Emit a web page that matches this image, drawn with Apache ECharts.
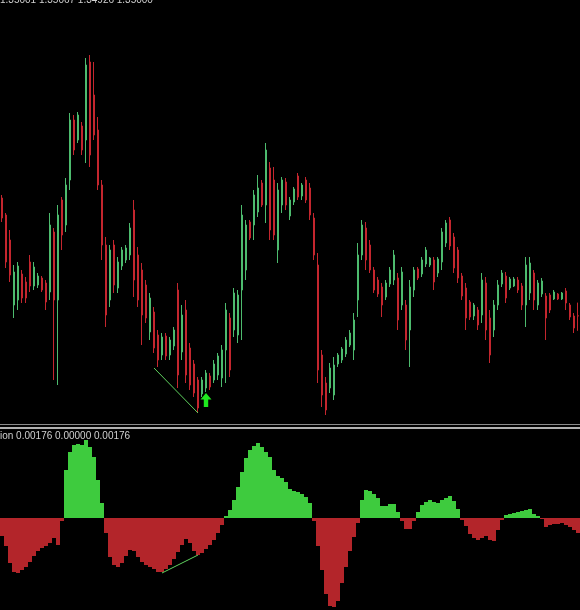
<!DOCTYPE html>
<html>
<head>
<meta charset="utf-8">
<script src="https://cdn.jsdelivr.net/npm/echarts@6/dist/echarts.min.js"></script>
<style>
    html, body { margin: 0; padding: 0; background: #000; }
    #chart { width: 580px; height: 610px; }
</style>
</head>
<body>
<div id="chart"></div>
<script>
// price bars
const open = [
    1.35590, 1.35505, 1.35380, 1.35055, 1.35080, 1.35210, 1.35170, 1.35270, 1.35150, 1.35155,
    1.35190, 1.35165, 1.35120, 1.35420, 1.35080, 1.35580, 1.35455, 1.35680, 1.35980, 1.35880,
    1.35950, 1.35880, 1.36270, 1.36105, 1.35930, 1.35655, 1.35355, 1.35080, 1.35355, 1.35140,
    1.35250, 1.35280, 1.35305, 1.35530, 1.35305, 1.35230, 1.35155, 1.34920, 1.35020, 1.34905,
    1.34805, 1.34900, 1.34805, 1.34850, 1.35130, 1.34820, 1.35030, 1.34840, 1.34760, 1.34680,
    1.34610, 1.34640, 1.34700, 1.34680, 1.34705, 1.34690, 1.34830, 1.34990, 1.34930, 1.34905,
    1.35130, 1.35230, 1.35470, 1.35455, 1.35520, 1.35665, 1.35555, 1.35740, 1.35680, 1.35330,
    1.35555, 1.35670, 1.35500, 1.35570, 1.35700, 1.35600, 1.35680, 1.35640, 1.35490, 1.35255,
    1.34805, 1.34665, 1.34640, 1.34605, 1.34760, 1.34780, 1.34810, 1.34855, 1.34830, 1.35080,
    1.35305, 1.35440, 1.35355, 1.35230, 1.35180, 1.35145, 1.35095, 1.35160, 1.35180, 1.35190,
    1.35055, 1.35055, 1.34930, 1.35130, 1.35235, 1.35210, 1.35260, 1.35255, 1.35280, 1.35215,
    1.35270, 1.35365, 1.35480, 1.35395, 1.35330, 1.35200, 1.35140, 1.35070, 1.35000, 1.35030,
    1.35005, 1.35165, 1.34990, 1.34930, 1.35055, 1.35160, 1.35200, 1.35140, 1.35150, 1.35180,
    1.35150, 1.35055, 1.35115, 1.35215, 1.35055, 1.35110, 1.35100, 1.35105, 1.35085, 1.35110,
    1.35085, 1.35125, 1.35055, 1.35000, 1.35001
]
const close = [
    1.35490, 1.35270, 1.35205, 1.35220, 1.35250, 1.35090, 1.35090, 1.35150, 1.35245, 1.35200,
    1.35130, 1.35070, 1.35455, 1.35080, 1.35505, 1.35405, 1.35655, 1.35980, 1.35830, 1.36005,
    1.35830, 1.36255, 1.35805, 1.35905, 1.35655, 1.35355, 1.35005, 1.35330, 1.35155, 1.35270,
    1.35330, 1.35340, 1.35440, 1.35180, 1.35080, 1.35005, 1.34990, 1.35090, 1.34840, 1.34780,
    1.34895, 1.34800, 1.34880, 1.34930, 1.34705, 1.35005, 1.34705, 1.34655, 1.34615, 1.34540,
    1.34680, 1.34715, 1.34645, 1.34760, 1.34800, 1.34830, 1.35030, 1.34730, 1.35115, 1.35105,
    1.35505, 1.35455, 1.35390, 1.35605, 1.35640, 1.35555, 1.35830, 1.35430, 1.35405, 1.35630,
    1.35680, 1.35555, 1.35580, 1.35635, 1.35595, 1.35655, 1.35580, 1.35505, 1.35305, 1.34730,
    1.34605, 1.34530, 1.34740, 1.34755, 1.34805, 1.34835, 1.34880, 1.34915, 1.34980, 1.35305,
    1.35455, 1.35280, 1.35230, 1.35130, 1.35110, 1.35055, 1.35165, 1.35230, 1.35305, 1.34980,
    1.35220, 1.34880, 1.35145, 1.35230, 1.35190, 1.35280, 1.35330, 1.35290, 1.35170, 1.35285,
    1.35420, 1.35465, 1.35350, 1.35240, 1.35190, 1.35100, 1.34990, 1.34995, 1.35055, 1.34955,
    1.35180, 1.34930, 1.34805, 1.35055, 1.35155, 1.35215, 1.35090, 1.35185, 1.35185, 1.35130,
    1.35055, 1.35255, 1.35265, 1.35080, 1.35165, 1.35175, 1.34990, 1.35030, 1.35120, 1.35085,
    1.35115, 1.35065, 1.34995, 1.34940, 1.35000
]
const low = [
    1.35470, 1.35240, 1.35170, 1.34990, 1.35030, 1.35065, 1.35065, 1.35120, 1.35130, 1.35140,
    1.35120, 1.35030, 1.35080, 1.34680, 1.34655, 1.35330, 1.35420, 1.35630, 1.35805, 1.35865,
    1.35805, 1.35765, 1.35745, 1.35880, 1.35630, 1.35280, 1.34945, 1.35045, 1.35115, 1.35115,
    1.35230, 1.35265, 1.35280, 1.35095, 1.35045, 1.34855, 1.34965, 1.34880, 1.34815, 1.34745,
    1.34780, 1.34780, 1.34780, 1.34830, 1.34640, 1.34780, 1.34665, 1.34630, 1.34595, 1.34515,
    1.34595, 1.34620, 1.34630, 1.34665, 1.34680, 1.34645, 1.34665, 1.34695, 1.34895, 1.34865,
    1.34880, 1.35180, 1.35380, 1.35380, 1.35495, 1.35545, 1.35465, 1.35380, 1.35380, 1.35265,
    1.35515, 1.35530, 1.35480, 1.35555, 1.35580, 1.35580, 1.35565, 1.35480, 1.35280, 1.34665,
    1.34545, 1.34505, 1.34615, 1.34580, 1.34745, 1.34765, 1.34795, 1.34845, 1.34780, 1.34995,
    1.35280, 1.35230, 1.35215, 1.35115, 1.35095, 1.34995, 1.35080, 1.35145, 1.35155, 1.34930,
    1.35030, 1.34830, 1.34745, 1.35095, 1.35180, 1.35195, 1.35245, 1.35245, 1.35130, 1.35195,
    1.35230, 1.35345, 1.35330, 1.35215, 1.35165, 1.35080, 1.34930, 1.34980, 1.34980, 1.34930,
    1.34965, 1.34880, 1.34765, 1.34895, 1.35030, 1.35145, 1.35065, 1.35130, 1.35145, 1.35115,
    1.35030, 1.34945, 1.35080, 1.35030, 1.35030, 1.35095, 1.34880, 1.35015, 1.35080, 1.35080,
    1.35080, 1.35030, 1.34980, 1.34915, 1.34926
]
const high = [
    1.35605, 1.35515, 1.35430, 1.35255, 1.35270, 1.35230, 1.35195, 1.35305, 1.35270, 1.35215,
    1.35200, 1.35180, 1.35515, 1.35440, 1.35555, 1.35595, 1.35690, 1.36015, 1.36005, 1.36020,
    1.35970, 1.36290, 1.36305, 1.36270, 1.35995, 1.35680, 1.35395, 1.35355, 1.35380, 1.35295,
    1.35345, 1.35355, 1.35465, 1.35580, 1.35345, 1.35265, 1.35180, 1.35115, 1.35045, 1.34930,
    1.34915, 1.34915, 1.34895, 1.34945, 1.35165, 1.35055, 1.35080, 1.34865, 1.34780, 1.34695,
    1.34695, 1.34730, 1.34715, 1.34780, 1.34815, 1.34855, 1.35065, 1.35015, 1.35140, 1.35130,
    1.35555, 1.35480, 1.35480, 1.35630, 1.35705, 1.35680, 1.35865, 1.35770, 1.35745, 1.35665,
    1.35695, 1.35690, 1.35595, 1.35645, 1.35715, 1.35665, 1.35695, 1.35665, 1.35515, 1.35315,
    1.34830, 1.34695, 1.34765, 1.34795, 1.34815, 1.34845, 1.34895, 1.34930, 1.35015, 1.35365,
    1.35480, 1.35470, 1.35380, 1.35245, 1.35195, 1.35165, 1.35180, 1.35245, 1.35330, 1.35215,
    1.35245, 1.35080, 1.35180, 1.35245, 1.35245, 1.35295, 1.35345, 1.35295, 1.35295, 1.35295,
    1.35440, 1.35480, 1.35495, 1.35415, 1.35345, 1.35215, 1.35165, 1.35080, 1.35065, 1.35045,
    1.35215, 1.35195, 1.35030, 1.35080, 1.35180, 1.35230, 1.35220, 1.35195, 1.35195, 1.35195,
    1.35165, 1.35295, 1.35295, 1.35230, 1.35180, 1.35190, 1.35115, 1.35115, 1.35130, 1.35115,
    1.35120, 1.35140, 1.35065, 1.35015, 1.35067
]
// oscillator histogram
const osc = [
    -0.00036, -0.00056, -0.00090, -0.00108, -0.00110, -0.00104, -0.00098, -0.00088, -0.00076, -0.00066,
    -0.00060, -0.00056, -0.00050, -0.00040, -0.00054, -0.00006, 0.00096, 0.00132, 0.00146, 0.00148,
    0.00146, 0.00156, 0.00142, 0.00122, 0.00076, 0.00030, -0.00030, -0.00078, -0.00094, -0.00098,
    -0.00090, -0.00076, -0.00064, -0.00066, -0.00078, -0.00088, -0.00094, -0.00098, -0.00102, -0.00108,
    -0.00108, -0.00102, -0.00094, -0.00082, -0.00068, -0.00054, -0.00042, -0.00050, -0.00066, -0.00074,
    -0.00070, -0.00062, -0.00054, -0.00044, -0.00030, -0.00014, 0.00004, 0.00016, 0.00036, 0.00062,
    0.00092, 0.00120, 0.00136, 0.00144, 0.00150, 0.00142, 0.00132, 0.00122, 0.00096, 0.00084,
    0.00080, 0.00072, 0.00058, 0.00054, 0.00052, 0.00048, 0.00042, 0.00030, -0.00006, -0.00056,
    -0.00104, -0.00152, -0.00176, -0.00178, -0.00166, -0.00130, -0.00098, -0.00066, -0.00038, -0.00010,
    0.00036, 0.00056, 0.00054, 0.00048, 0.00040, 0.00024, 0.00024, 0.00028, 0.00028, 0.00012,
    -0.00006, -0.00022, -0.00022, -0.00006, 0.00012, 0.00026, 0.00032, 0.00036, 0.00032, 0.00030,
    0.00036, 0.00040, 0.00044, 0.00034, 0.00018, -0.00004, -0.00016, -0.00032, -0.00040, -0.00044,
    -0.00040, -0.00036, -0.00044, -0.00046, -0.00024, -0.00004, 0.00006, 0.00008, 0.00010, 0.00012,
    0.00014, 0.00016, 0.00018, 0.00008, 0.00004, -0.00002, -0.00018, -0.00014, -0.00012, -0.00012,
    -0.00010, -0.00014, -0.00018, -0.00024, -0.00030
]
// divergence lines [bar index, value] and signal arrow
const priceDiv = [[38, 1.34740], [49, 1.34515]]
const oscDiv = [[40, -0.00110], [49, -0.00074]]
const arrowAt = [51, 1.34580]
const oscLabel = 'ion 0.00176 0.00000 0.00176'

const bars = open.map((_, i) => String(i))
const last = open.length - 1
const header = [open[last], high[last], low[last], close[last]].map(v => v.toFixed(5)).join(' ')

const chart = echarts.init(document.getElementById('chart'))
chart.setOption({
    backgroundColor: '#000',
    animation: false,
    grid: [
        { left: 0, right: 0, top: 0, height: 425 },
        { left: 0, right: 0, top: 430, height: 180 }
    ],
    xAxis: [
        { type: 'category', data: bars, gridIndex: 0, show: false },
        { type: 'category', data: bars, gridIndex: 1, show: false }
    ],
    yAxis: [
        { type: 'value', gridIndex: 0, min: 1.34455, max: 1.3658, show: false, splitLine: { show: false } },
        { type: 'value', gridIndex: 1, min: -0.00184, max: 0.00176, show: false, splitLine: { show: false } }
    ],
    series: [
        {
            type: 'candlestick',
            xAxisIndex: 0,
            yAxisIndex: 0,
            barWidth: 2,
            data: open.map((o, i) => [o, close[i], low[i], high[i]]),
            itemStyle: {
                color: '#4dbb6e',
                color0: '#c4262e',
                borderColor: '#4dbb6e',
                borderColor0: '#c4262e',
                borderWidth: 1
            },
            markLine: {
                silent: true,
                symbol: 'none',
                label: { show: false },
                lineStyle: { color: '#5fd35f', width: 1, type: 'solid' },
                data: [[{ coord: priceDiv[0] }, { coord: priceDiv[1] }]]
            },
            markPoint: {
                silent: true,
                symbol: 'path://M5,0 L10,6 L7,6 L7,13 L3,13 L3,6 L0,6 Z',
                symbolSize: [11, 14],
                itemStyle: { color: '#1ee81e' },
                label: { show: false },
                data: [{ coord: arrowAt }]
            }
        },
        {
            type: 'bar',
            xAxisIndex: 1,
            yAxisIndex: 1,
            barCategoryGap: '0%',
            data: osc,
            itemStyle: {
                color: p => (p.value >= 0 ? '#3ecb3e' : '#b3252a')
            },
            markLine: {
                silent: true,
                symbol: 'none',
                label: { show: false },
                lineStyle: { color: '#5fd35f', width: 1, type: 'solid' },
                data: [[{ coord: oscDiv[0] }, { coord: oscDiv[1] }]]
            }
        }
    ],
    graphic: [
        { type: 'rect', shape: { x: 0, y: 424, width: 580, height: 1 }, style: { fill: '#8a8a8a' }, silent: true },
        { type: 'rect', shape: { x: 0, y: 427, width: 580, height: 2 }, style: { fill: '#b0b0b0' }, silent: true },
        {
            type: 'text', left: 0, top: -5,
            style: { text: header, fill: '#d0d0d0', font: '10px "Liberation Sans", Arial, sans-serif' }
        },
        {
            type: 'text', left: 0, top: 431,
            style: { text: oscLabel, fill: '#d0d0d0', font: '10px "Liberation Sans", Arial, sans-serif' }
        }
    ]
})
</script>
</body>
</html>
